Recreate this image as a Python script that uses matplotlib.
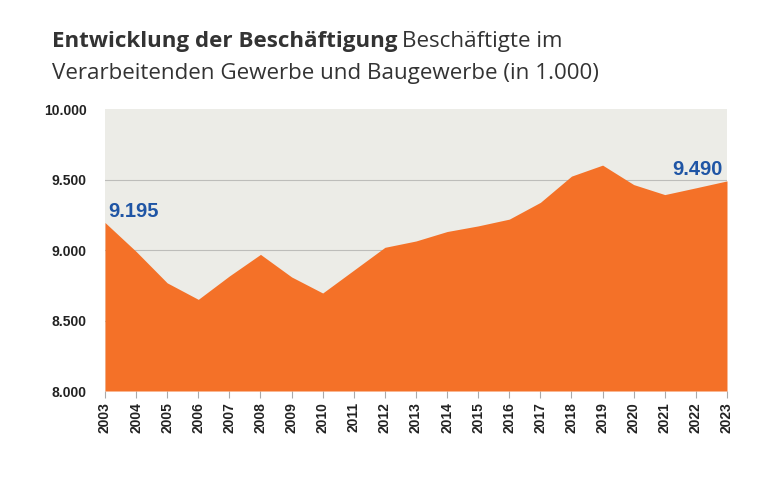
import matplotlib.pyplot as plt
import numpy as np

years = list(range(2003, 2024))
employed = [9195, 8990, 8767, 8650, 8816, 8969, 8809, 8695, 8857, 9019,
            9064, 9131, 9171, 9219, 9338, 9524, 9602, 9464, 9393, 9441, 9490]
y_ticks = [8000, 8500, 9000, 9500, 10000]
y_labels = ["8.000", "8.500", "9.000", "9.500", "10.000"]

ORANGE = "#F47128"
BG = "#ECECE7"
BLUE = "#1F55A5"
TXT = "#333333"


def main() -> None:
    fig = plt.figure(figsize=(7.68, 4.8), dpi=100)
    ax = fig.add_axes([0.1367, 0.1854, 0.8099, 0.5875])
    ax.set_facecolor(BG)

    x = np.array(years)
    ax.fill_between(x, 8000, employed, color=ORANGE, lw=0, zorder=2)
    for yv in (8500, 9000, 9500):
        ax.axhline(yv, color="#BDBDBA", lw=0.8, zorder=1)

    ax.set_xlim(2003, 2023)
    ax.set_ylim(8000, 10000)
    ax.set_yticks(y_ticks)
    ax.set_yticklabels(y_labels, fontsize=10, fontweight="bold",
                       family="Liberation Sans", color="#222222")
    ax.set_xticks(years)
    ax.set_xticklabels([str(y) for y in years], rotation=90, fontsize=10,
                       fontweight="bold", family="Liberation Sans",
                       color="#222222")
    ax.tick_params(axis="y", length=0, pad=13)
    ax.tick_params(axis="x", length=5, color="#AAAAAA", pad=3)
    for s in ax.spines.values():
        s.set_visible(False)

    ax.text(years[0] + 0.1, employed[0] + 8, "9.195", color=BLUE,
            fontsize=14.5, fontweight="bold", family="Liberation Sans",
            ha="left", va="bottom", zorder=3)
    ax.text(years[-1] - 0.15, employed[-1] + 15, "9.490", color=BLUE,
            fontsize=14.5, fontweight="bold", family="Liberation Sans",
            ha="right", va="bottom", zorder=3)

    fs = 16.1
    bold = fig.text(52 / 768, 1 - 47 / 480, "Entwicklung der Beschäftigung",
                    fontsize=fs, fontweight="bold", family="Open Sans",
                    color=TXT, ha="left", va="baseline")
    fig.canvas.draw()
    bb = bold.get_window_extent(fig.canvas.get_renderer())
    fig.text(bb.x1 / 768 + 5 / 768, 1 - 47 / 480, "Beschäftigte im",
             fontsize=fs, family="Open Sans", color=TXT,
             ha="left", va="baseline")
    fig.text(52 / 768, 1 - 79 / 480,
             "Verarbeitenden Gewerbe und Baugewerbe (in 1.000)",
             fontsize=fs, family="Open Sans", color=TXT,
             ha="left", va="baseline")

    fig.savefig("out.png", dpi=100)
    plt.close(fig)


if __name__ == "__main__":
    main()
